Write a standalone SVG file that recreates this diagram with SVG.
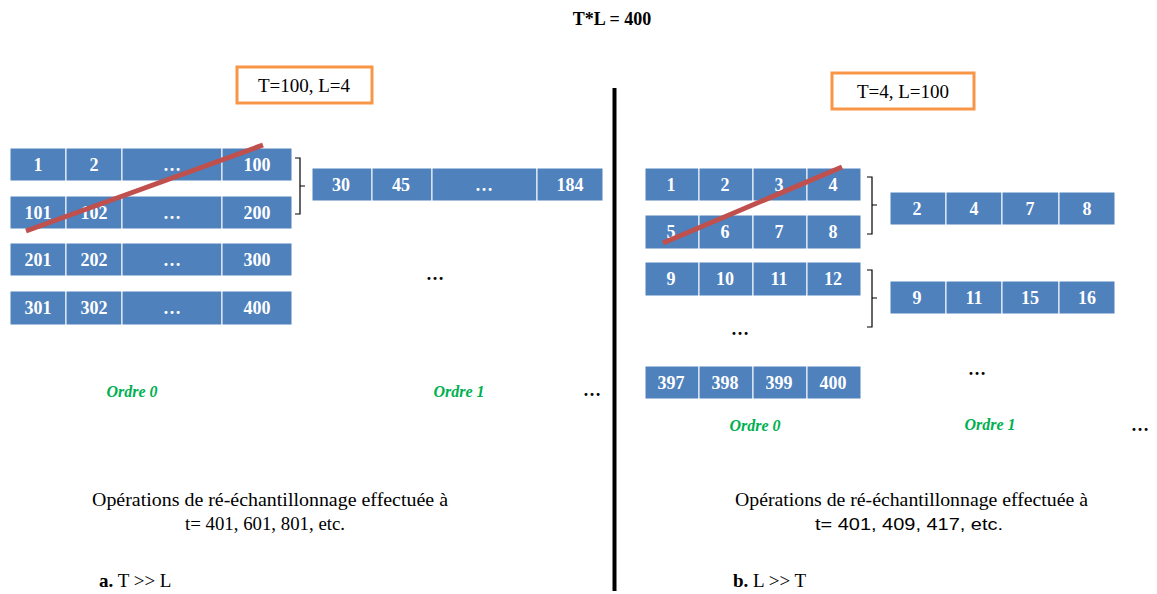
<svg xmlns="http://www.w3.org/2000/svg" width="1157" height="594" viewBox="0 0 1157 594">
<style>
text{font-family:'Liberation Serif','Times New Roman',serif}
.c{fill:#4f81bd;stroke:#ffffff;stroke-width:1}
.n{font-weight:bold;font-size:18px;fill:#ffffff;text-anchor:middle}
.t{font-size:19px;fill:#000000}
.o{font-weight:bold;font-style:italic;font-size:16px;fill:#00b050;text-anchor:middle}
.d{font-weight:bold;font-size:18px;fill:#000000;text-anchor:middle}
.box{fill:#ffffff;stroke:#f79646;stroke-width:3}
.br{fill:none;stroke:#000000;stroke-width:1.2}
.red{stroke:#c0504d;stroke-width:5;stroke-linecap:butt}
</style>
<rect width="1157" height="594" fill="#ffffff"/>
<text x="612" y="25" class="d" font-size="17">T*L = 400</text>
<line x1="614.5" y1="88" x2="614.5" y2="591" stroke="#000" stroke-width="4"/>

<g id="boxA"><rect class="box" x="237" y="67" width="135" height="36"/><text x="304" y="92" class="t" text-anchor="middle">T=100, L=4</text></g>
<g id="boxB"><rect class="box" x="832" y="73" width="142" height="36"/><text x="903" y="98" class="t" text-anchor="middle">T=4, L=100</text></g>

<g id="gridA">
<g id="a-r1"><rect class="c" x="10" y="148" width="56" height="33"/><rect class="c" x="66" y="148" width="56" height="33"/><rect class="c" x="122" y="148" width="100" height="33"/><rect class="c" x="222" y="148" width="70" height="33"/>
<text class="n" x="38" y="171">1</text><text class="n" x="94" y="171">2</text><text class="n" x="172" y="171">…</text><text class="n" x="257" y="171">100</text></g>
<g id="a-r2"><rect class="c" x="10" y="196" width="56" height="33"/><rect class="c" x="66" y="196" width="56" height="33"/><rect class="c" x="122" y="196" width="100" height="33"/><rect class="c" x="222" y="196" width="70" height="33"/>
<text class="n" x="38" y="219">101</text><text class="n" x="94" y="219">102</text><text class="n" x="172" y="219">…</text><text class="n" x="257" y="219">200</text></g>
<g id="a-r3"><rect class="c" x="10" y="243" width="56" height="33"/><rect class="c" x="66" y="243" width="56" height="33"/><rect class="c" x="122" y="243" width="100" height="33"/><rect class="c" x="222" y="243" width="70" height="33"/>
<text class="n" x="38" y="266">201</text><text class="n" x="94" y="266">202</text><text class="n" x="172" y="266">…</text><text class="n" x="257" y="266">300</text></g>
<g id="a-r4"><rect class="c" x="10" y="291" width="56" height="34"/><rect class="c" x="66" y="291" width="56" height="34"/><rect class="c" x="122" y="291" width="100" height="34"/><rect class="c" x="222" y="291" width="70" height="34"/>
<text class="n" x="38" y="314">301</text><text class="n" x="94" y="314">302</text><text class="n" x="172" y="314">…</text><text class="n" x="257" y="314">400</text></g>
</g>

<g id="a-o1"><rect class="c" x="312" y="168" width="60" height="33"/><rect class="c" x="372" y="168" width="60" height="33"/><rect class="c" x="432" y="168" width="105" height="33"/><rect class="c" x="537" y="168" width="66" height="33"/>
<text class="n" x="341" y="191">30</text><text class="n" x="401" y="191">45</text><text class="n" x="484" y="191">…</text><text class="n" x="570" y="191">184</text></g>

<g id="gridB">
<g id="b-r1"><rect class="c" x="645" y="168" width="54" height="33"/><rect class="c" x="699" y="168" width="54" height="33"/><rect class="c" x="753" y="168" width="54" height="33"/><rect class="c" x="807" y="168" width="54" height="33"/>
<text class="n" x="671" y="191">1</text><text class="n" x="725" y="191">2</text><text class="n" x="779" y="191">3</text><text class="n" x="833" y="191">4</text></g>
<g id="b-r2"><rect class="c" x="645" y="215" width="54" height="34"/><rect class="c" x="699" y="215" width="54" height="34"/><rect class="c" x="753" y="215" width="54" height="34"/><rect class="c" x="807" y="215" width="54" height="34"/>
<text class="n" x="671" y="238">5</text><text class="n" x="725" y="238">6</text><text class="n" x="779" y="238">7</text><text class="n" x="833" y="238">8</text></g>
<g id="b-r3"><rect class="c" x="645" y="262" width="54" height="34"/><rect class="c" x="699" y="262" width="54" height="34"/><rect class="c" x="753" y="262" width="54" height="34"/><rect class="c" x="807" y="262" width="54" height="34"/>
<text class="n" x="671" y="285">9</text><text class="n" x="725" y="285">10</text><text class="n" x="779" y="285">11</text><text class="n" x="833" y="285">12</text></g>
<g id="b-r4"><rect class="c" x="645" y="366" width="54" height="33"/><rect class="c" x="699" y="366" width="54" height="33"/><rect class="c" x="753" y="366" width="54" height="33"/><rect class="c" x="807" y="366" width="54" height="33"/>
<text class="n" x="671" y="389">397</text><text class="n" x="725" y="389">398</text><text class="n" x="779" y="389">399</text><text class="n" x="833" y="389">400</text></g>
</g>

<g id="b-o1"><rect class="c" x="890" y="192" width="56" height="33"/><rect class="c" x="946" y="192" width="56" height="33"/><rect class="c" x="1002" y="192" width="57" height="33"/><rect class="c" x="1059" y="192" width="56" height="33"/>
<text class="n" x="917" y="215">2</text><text class="n" x="974" y="215">4</text><text class="n" x="1030" y="215">7</text><text class="n" x="1087" y="215">8</text></g>
<g id="b-o2"><rect class="c" x="890" y="281" width="56" height="33"/><rect class="c" x="946" y="281" width="56" height="33"/><rect class="c" x="1002" y="281" width="57" height="33"/><rect class="c" x="1059" y="281" width="56" height="33"/>
<text class="n" x="917" y="304">9</text><text class="n" x="974" y="304">11</text><text class="n" x="1030" y="304">15</text><text class="n" x="1087" y="304">16</text></g>

<g id="connectors">
<path class="br" d="M295,158 H300 V214 H295 M300,186 H305"/>
<path class="br" d="M867,177 H872 V234 H867 M872,205 H877"/>
<path class="br" d="M867,270 H872 V327 H867 M872,298 H877"/>
<line class="red" x1="26" y1="231" x2="263" y2="145"/>
<line class="red" x1="663" y1="243" x2="842" y2="167"/>
</g>

<text class="d" x="435" y="280">…</text>
<text class="d" x="592" y="396">…</text>
<text class="d" x="740" y="335">…</text>
<text class="d" x="977" y="375">…</text>
<text class="d" x="1140" y="431">…</text>

<text class="o" x="132" y="397">Ordre 0</text>
<text class="o" x="459" y="397">Ordre 1</text>
<text class="o" x="755" y="431">Ordre 0</text>
<text class="o" x="990" y="430">Ordre 1</text>

<text class="t" x="92" y="506" textLength="356" lengthAdjust="spacingAndGlyphs">Opérations de ré-échantillonnage  effectuée à</text>
<text class="t" x="185" y="530" textLength="160" lengthAdjust="spacingAndGlyphs">t= 401, 601, 801, etc.</text>
<text class="t" x="735" y="506" textLength="353" lengthAdjust="spacingAndGlyphs">Opérations de ré-échantillonnage  effectuée à</text>
<text x="815" y="530" style="font-family:'Liberation Sans',Arial,sans-serif" font-size="16" textLength="188" lengthAdjust="spacingAndGlyphs">t= 401, 409, 417, etc.</text>

<text class="t" x="99" y="587"><tspan font-weight="bold">a.</tspan> T &gt;&gt; L</text>
<text class="t" x="733" y="587"><tspan font-weight="bold">b.</tspan> L &gt;&gt; T</text>
</svg>
